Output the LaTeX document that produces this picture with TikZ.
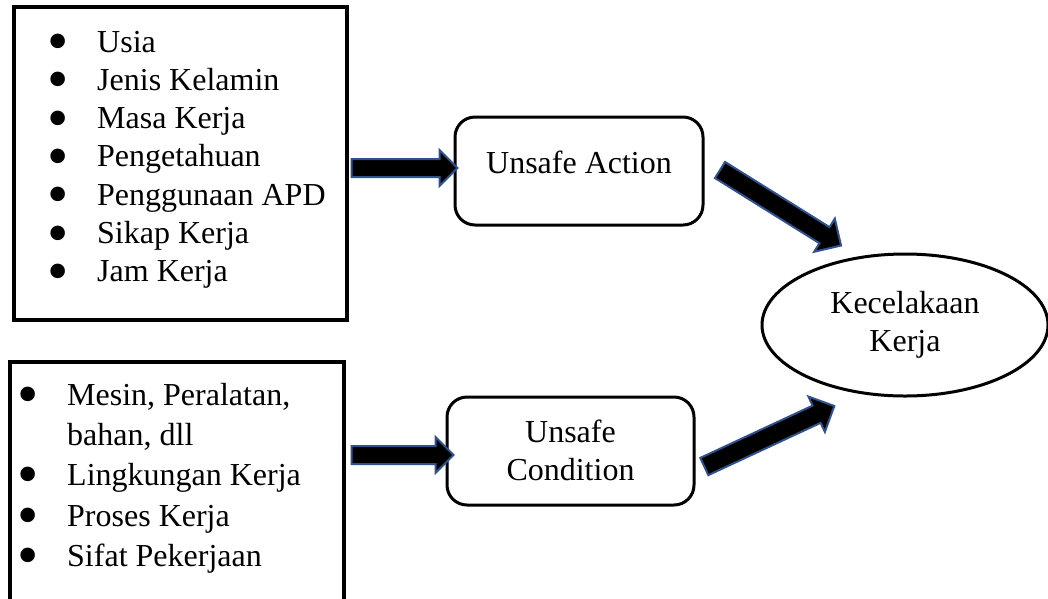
\documentclass[tikz,border=0pt]{standalone}
\usepackage{fontspec}
\setmainfont{Liberation Serif}
\usetikzlibrary{shapes.geometric,shapes.arrows,calc}
\definecolor{arrblue}{HTML}{2F528F}
\newcommand\bigfont{\fontsize{32}{38}\selectfont}
\newcommand\bul{\makebox[50pt][l]{\raisebox{-9.5pt}[0pt][0pt]{\scalebox{1.9}{\textbullet}}}}
\newcommand\blockarrow[4][]{%
  \path let \p1=($(#3)-(#2)$), \n1={atan2(\y1,\x1)}, \n2={veclen(\x1,\y1)} in
    node[blockarr, #1, rotate=\n1, minimum height=\n2] (#4) at ($(#2)!0.5!(#3)$) {};}
\begin{document}
\begin{tikzpicture}[x=1pt,y=-1pt,
  listbox/.style={draw, line width=4pt, rectangle, inner sep=0pt},
  listitem/.style={anchor=base west, inner sep=0pt, font=\bigfont},
  roundbox/.style={draw, line width=3pt, rounded corners=20pt, minimum height=108pt,
    inner sep=0pt, align=center, font=\bigfont},
  oval/.style={draw, line width=3pt, ellipse, inner sep=0pt, align=center, font=\bigfont},
  blockarr/.style={single arrow, fill=black, draw=arrblue, line width=2pt,
    inner xsep=0pt, inner ysep=8pt, text height=0pt, text depth=0pt, minimum width=0pt,
    single arrow head extend=9pt, single arrow head indent=0pt},
  widearr/.style={inner ysep=8.5pt, single arrow head extend=10pt}
]
\useasboundingbox (0,0) rectangle (1048,598);

% left boxes
\node[listbox, minimum width=333pt, minimum height=313pt] (box1) at (180.5,163.5) {};
\node[listbox, minimum width=334pt, minimum height=278pt] (box2) at (177,501) {};

\foreach \t [count=\i from 0] in {Usia, Jenis Kelamin, Masa Kerja, Pengetahuan, Penggunaan APD, Sikap Kerja, Jam Kerja}
  \node[listitem] (item\i) at (47, 52+38.3*\i) {\bul\t};

\node[listitem] (cond1) at (17,405) {\bul Mesin, Peralatan,};
\node[listitem] (cond1b) at (67,445) {bahan, dll};
\node[listitem] (cond2) at (17,485) {\bul Lingkungan Kerja};
\node[listitem] (cond3) at (17,526) {\bul Proses Kerja};
\node[listitem] (cond4) at (17,566) {\bul Sifat Pekerjaan};

% middle boxes
\node[roundbox, minimum width=248pt, text height=22pt, text depth=18pt] (ua) at (579,171) {Unsafe Action};
\node[roundbox, minimum width=247pt, text depth=1pt] (uc) at (570.5,451) {Unsafe\\Condition};

% ellipse
\node[oval, minimum width=286pt, minimum height=142pt] (kk) at (905,325) {Kecelakaan\\Kerja};

% arrows
\coordinate (a1s) at (347,168);   \coordinate (a1e) at (453,168);
\coordinate (a2s) at (347,455);   \coordinate (a2e) at (449,455);
\coordinate (a3s) at (716,167.5); \coordinate (a3e) at (837,243);
\coordinate (a4s) at (700,468.5); \coordinate (a4e) at (830,408);
\blockarrow{a1s}{a1e}{arr1}
\blockarrow{a2s}{a2e}{arr2}
\blockarrow[widearr]{a3s}{a3e}{arr3}
\blockarrow[widearr]{a4s}{a4e}{arr4}
\end{tikzpicture}
\end{document}
